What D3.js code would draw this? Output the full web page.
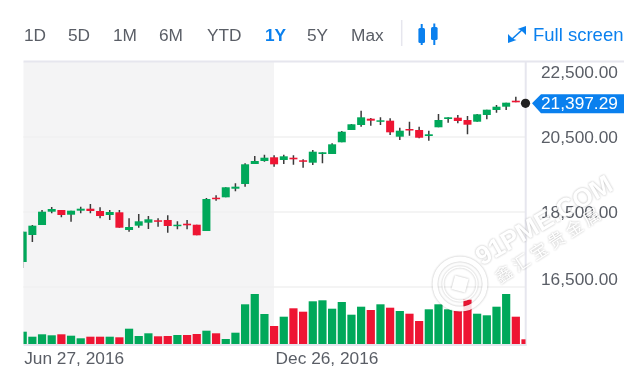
<!DOCTYPE html>
<html>
<head>
<meta charset="utf-8">
<script src="https://cdn.jsdelivr.net/npm/d3@7/dist/d3.min.js"></script>
<style>
  html, body { margin: 0; padding: 0; background: #fff; overflow: hidden; }
  svg { display: block; font-family: "Liberation Sans", Arial, sans-serif; filter: blur(0.4px); }
  .watermark { filter: drop-shadow(0.5px 0.5px 1px rgba(0,0,0,0.32)); }
</style>
</head>
<body>
<svg width="634" height="370"></svg>
<script>
// weekly candles
var opens = [17167,17887,18153,18508,18553,18428,18535,18588,18527,18420,18492,18020,18135,18215,18279,18287,18135,18188,18161,17993,18881,18892,19121,19247,19780,19860,19959,19887,19948,19879,19815,20047,20047,20359,20687,20820,20988,20908,20935,20508,20713,20687,20527,20759,20980,21015,20953,20908,21087,21220,21308,21468,21410];
var highs = [17990,18153,18553,18633,18553,18535,18641,18713,18625,18553,18553,18332,18447,18393,18332,18412,18252,18287,18161,18873,18945,19159,19265,19799,19993,20028,20012,20028,20012,19905,20153,20092,20332,20660,20847,21201,21007,21025,20999,20748,20908,20775,20668,21113,21025,21087,21060,21113,21228,21353,21415,21575,21410];
var lows = [17007,17700,18153,18465,18359,18241,18465,18465,18332,18287,18081,17975,18081,18047,18108,17948,18039,18039,17879,17993,18801,18892,19052,19175,19780,19841,19708,19780,19761,19681,19753,19799,20047,20359,20687,20775,20801,20820,20553,20420,20535,20465,20401,20759,20881,20865,20572,20908,20972,21148,21220,21425,21397.29];
var closes = [17975,18135,18508,18580,18420,18535,18588,18527,18393,18500,18081,18100,18252,18305,18241,18127,18161,18145,17879,18847,18855,19159,19175,19772,19860,19948,19772,19985,19905,19852,20108,20092,20305,20641,20839,21025,20935,20945,20625,20668,20687,20481,20572,20953,21025,20927,20828,21105,21228,21308,21415,21425,21397.29];
var volumes = [12.3,7.3,9.7,8.7,9.7,8.3,5.7,7.3,7.3,7.3,6.7,15.3,8,10.7,7.7,8,9,9,10,13.3,10.7,5,11.3,39.7,50,30,18,27.3,35.7,32.3,42.7,43.7,35.3,42,29.3,37.3,34,39.7,36.3,33,30.3,23,34.7,39.7,34.7,33.3,44.3,30.3,28.7,37.3,50,27.3,4.7];
var volumeUp = [1,1,1,1,0,1,1,0,0,1,0,1,1,1,0,0,1,0,0,1,0,1,1,1,1,1,0,1,0,0,1,1,1,1,1,1,0,1,0,1,0,0,1,1,1,0,0,1,1,1,1,0,0];

var priceTicks = [22500, 20500, 18500, 16500];
var dateTicks = [0, 26];
var dateLabels = ["Jun 27, 2016", "Dec 26, 2016"];
var lastPrice = 21397.29;
var ranges = ["1D", "5D", "1M", "6M", "YTD", "1Y", "5Y", "Max"];
var rangeX = [24, 68, 113, 159, 207, 265, 307, 351];

var GREEN = "#00a85a", RED = "#ee1533", BLUE = "#0a80ee", TEXT = "#5a5e66", LINE = "#e6e6ee";

var svg = d3.select("svg");
var plotLeft = 23.5, plotRight = 525.5, plotTop = 62, plotBottom = 344;

var x = d3.scaleLinear().domain([0, 52]).range([22.7, 525.5]);
var y = d3.scaleLinear().domain([16500, 22500]).range([287, 62]);
var yVol = d3.scaleLinear().domain([0, 50]).range([344, 294]);

svg.append("clipPath").attr("id", "plot").append("rect")
    .attr("x", plotLeft).attr("y", plotTop).attr("width", plotRight - plotLeft).attr("height", plotBottom - plotTop + 1);

// shaded half of the plot
svg.append("rect").attr("x", plotLeft).attr("y", plotTop)
    .attr("width", 274 - plotLeft).attr("height", plotBottom - plotTop + 1).attr("fill", "#f4f4f5");

// grid
svg.append("g").selectAll("line").data(priceTicks.slice(1)).join("line")
    .attr("x1", plotLeft).attr("x2", plotRight)
    .attr("y1", function(d) { return y(d); }).attr("y2", function(d) { return y(d); })
    .attr("stroke", "#f0f0f0").attr("stroke-width", 1.5);

svg.append("line").attr("x1", plotLeft).attr("x2", 624).attr("y1", 61.5).attr("y2", 61.5)
    .attr("stroke", LINE).attr("stroke-width", 2);
svg.append("line").attr("x1", plotLeft).attr("x2", plotRight).attr("y1", 345).attr("y2", 345)
    .attr("stroke", LINE).attr("stroke-width", 2);
svg.append("line").attr("x1", 525.7).attr("x2", 525.7).attr("y1", 61).attr("y2", 346)
    .attr("stroke", LINE).attr("stroke-width", 2);

var plot = svg.append("g").attr("clip-path", "url(#plot)");

// volume
plot.append("g").selectAll("rect").data(volumes).join("rect")
    .attr("x", function(d, i) { return x(i) - 4.1; })
    .attr("width", 8.2)
    .attr("y", function(d) { return yVol(d); })
    .attr("height", function(d) { return yVol(0) - yVol(d); })
    .attr("fill", function(d, i) { return volumeUp[i] ? GREEN : RED; });

// candles
var candle = plot.append("g").selectAll("g").data(opens).join("g");
candle.append("line")
    .attr("x1", function(d, i) { return x(i); })
    .attr("x2", function(d, i) { return x(i); })
    .attr("y1", function(d, i) { return y(highs[i]); })
    .attr("y2", function(d, i) { return y(lows[i]); })
    .attr("stroke", "#3a3a3a").attr("stroke-width", 1.5);
candle.append("rect")
    .attr("x", function(d, i) { return x(i) - 4; })
    .attr("width", 8)
    .attr("y", function(d, i) { return y(Math.max(opens[i], closes[i])); })
    .attr("height", function(d, i) { return Math.max(1.5, Math.abs(y(opens[i]) - y(closes[i]))); })
    .attr("fill", function(d, i) { return closes[i] >= opens[i] ? GREEN : RED; });

// price axis, top and bottom labels sit pushed inwards
var yAxis = svg.append("g").attr("transform", "translate(541,0)")
    .call(d3.axisRight(y).tickValues(priceTicks).tickSize(0).tickPadding(0)
      .tickFormat(function(d) { return d3.format(",.2f")(d); }));
yAxis.select(".domain").remove();
yAxis.selectAll("text").attr("font-size", 17.3).attr("font-family", "inherit").attr("fill", TEXT)
    .attr("dy", function(d) { return d == 22500 ? "15px" : d == 16500 ? "-3px" : "5.5px"; });

// date axis
var xAxis = svg.append("g").attr("transform", "translate(0,345)")
    .call(d3.axisBottom(x).tickValues(dateTicks).tickSize(0).tickPadding(0)
      .tickFormat(function(d, i) { return dateLabels[i]; }));
xAxis.select(".domain").remove();
xAxis.selectAll("text").attr("font-size", 17.3).attr("font-family", "inherit").attr("fill", TEXT)
    .attr("text-anchor", "start").attr("dx", 1).attr("dy", "18.5px");

// last price marker and tag
var yLast = y(lastPrice);
svg.append("circle").attr("cx", x(52)).attr("cy", yLast).attr("r", 4.6).attr("fill", "#222");
svg.append("path").attr("fill", BLUE)
    .attr("d", d3.line()([[532, yLast], [541, yLast - 9], [624, yLast - 9], [624, yLast + 10], [541, yLast + 10]]) + "Z");
svg.append("text").attr("x", 541).attr("y", yLast + 6).attr("font-size", 17.3).attr("fill", "#fff")
    .text(d3.format(",.2f")(lastPrice));

// toolbar
svg.append("g").selectAll("text").data(ranges).join("text")
    .attr("x", function(d, i) { return rangeX[i]; })
    .attr("y", 41)
    .attr("font-size", 17.3)
    .attr("font-weight", function(d) { return d == "1Y" ? "bold" : "normal"; })
    .attr("fill", function(d) { return d == "1Y" ? BLUE : TEXT; })
    .text(function(d) { return d; });

svg.append("line").attr("x1", 401.7).attr("x2", 401.7).attr("y1", 20).attr("y2", 46)
    .attr("stroke", LINE).attr("stroke-width", 1.5);

// candlestick icon
[[421.7, 24, 45, 28, 15], [434.3, 23.5, 45, 27, 13]].forEach(function(c) {
  svg.append("line").attr("x1", c[0]).attr("x2", c[0]).attr("y1", c[1]).attr("y2", c[2])
      .attr("stroke", BLUE).attr("stroke-width", 2);
  svg.append("rect").attr("x", c[0] - 3.3).attr("y", c[3]).attr("width", 6.6).attr("height", c[4])
      .attr("rx", 1.5).attr("fill", BLUE);
});

// full screen icon: two arrow heads joined by a thin diagonal
svg.append("path").attr("fill", BLUE)
    .attr("d", "M526 26 L526 35 L523 32 L520.5 30 L517.5 29 Z M508 43 L508 34 L511 37 L513.5 39 L516.5 40 Z");
svg.append("line").attr("x1", 511).attr("y1", 40).attr("x2", 523).attr("y2", 29)
    .attr("stroke", BLUE).attr("stroke-width", 1.6);
svg.append("text").attr("x", 533).attr("y", 41).attr("font-size", 18.5).attr("fill", BLUE).text("Full screen");

// watermark
var wm = svg.append("g").attr("class", "watermark").attr("fill", "#fff").attr("opacity", 0.85);
wm.append("circle").attr("cx", 460).attr("cy", 284).attr("r", 25).attr("fill", "none")
    .attr("stroke", "#fff").attr("stroke-width", 5);
wm.append("circle").attr("cx", 460).attr("cy", 284).attr("r", 17).attr("fill", "none")
    .attr("stroke", "#fff").attr("stroke-width", 1.5);
wm.append("rect").attr("x", 453).attr("y", 277).attr("width", 14).attr("height", 14)
    .attr("transform", "rotate(15 460 284)");
wm.append("text").attr("transform", "translate(482,266) rotate(-30)")
    .attr("font-size", 26).attr("font-weight", "bold")
    .text("91PME.COM");
wm.append("text").attr("transform", "translate(500,284) rotate(-33)")
    .attr("font-size", 17).attr("letter-spacing", 4).attr("font-family", "Noto Sans CJK SC")
    .text("鑫汇宝贵金属");
</script>
</body>
</html>
